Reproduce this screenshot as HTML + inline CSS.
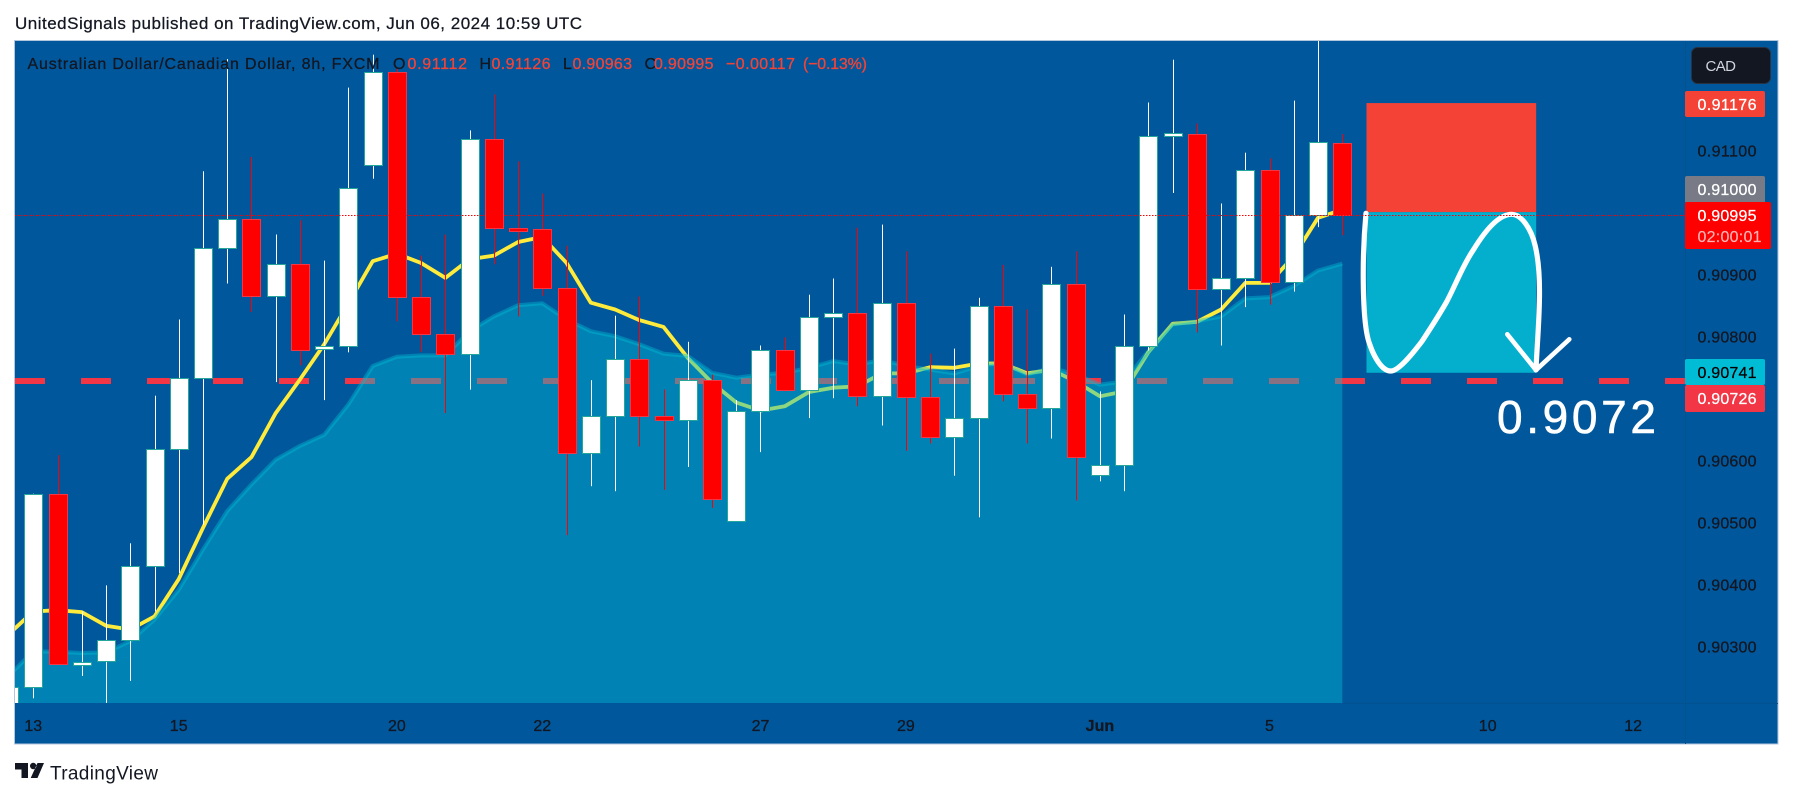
<!DOCTYPE html>
<html lang="en">
<head>
<meta charset="utf-8">
<title>AUD/CAD 8h chart</title>
<style>
  html, body { margin: 0; padding: 0; background: #ffffff; width: 1793px; height: 798px; overflow: hidden; }
  svg { display: block; font-family: "Liberation Sans", sans-serif; }
</style>
</head>
<body>
<svg id="chart" xmlns="http://www.w3.org/2000/svg" width="1793" height="798" viewBox="0 0 1793 798">
  <defs>
    <clipPath id="plot-clip"><rect x="15" y="41" width="1670" height="662"/></clipPath>
  </defs>
  <rect x="0" y="0" width="1793" height="798" fill="#ffffff"/>
  <text x="15" y="29" font-size="17" fill="#131722" stroke="#131722" stroke-width="0.25" textLength="567" lengthAdjust="spacing">UnitedSignals published on TradingView.com, Jun 06, 2024 10:59 UTC</text>
  <rect x="14.5" y="40.5" width="1763.5" height="703.5" fill="#01579b" stroke="#b4c6dc" stroke-width="1"/>
  <g id="plot" clip-path="url(#plot-clip)"></g>
  <rect x="1685" y="41" width="1" height="703" fill="#02528f"/>
  <rect x="1343" y="703" width="435" height="1" fill="#02528f"/>
  <g id="price-axis"></g>
  <g id="time-axis"></g>

  <g font-size="16" stroke-width="0.3">
    <text x="27.5" y="69" fill="#131722" stroke="#131722" textLength="352" lengthAdjust="spacing">Australian Dollar/Canadian Dollar, 8h, FXCM</text>
    <text x="393" y="69" fill="#131722" stroke="#131722">O</text>
    <text x="407.5" y="69" fill="#f44336" stroke="#f44336" textLength="59.5" lengthAdjust="spacing">0.91112</text>
    <text x="479.5" y="69" fill="#131722" stroke="#131722">H</text>
    <text x="491.5" y="69" fill="#f44336" stroke="#f44336" textLength="59" lengthAdjust="spacing">0.91126</text>
    <text x="563" y="69" fill="#131722" stroke="#131722">L</text>
    <text x="572.5" y="69" fill="#f44336" stroke="#f44336" textLength="59.5" lengthAdjust="spacing">0.90963</text>
    <text x="644.5" y="69" fill="#131722" stroke="#131722">C</text>
    <text x="654" y="69" fill="#f44336" stroke="#f44336" textLength="59.5" lengthAdjust="spacing">0.90995</text>
    <text x="726" y="69" fill="#f44336" stroke="#f44336" textLength="69" lengthAdjust="spacing">−0.00117</text>
    <text x="803" y="69" fill="#f44336" stroke="#f44336" textLength="64" lengthAdjust="spacing">(−0.13%)</text>
  </g>

  <g>
    <rect x="1691.5" y="47.5" width="79" height="36" rx="6" fill="#131722" stroke="#2a3140"/>
    <text x="1705.5" y="71" font-size="15" fill="#d1d4dc" textLength="30.5" lengthAdjust="spacing">CAD</text>
  </g>

  <g>
    <path fill="#131722" d="M15 763h13v15h-6.5v-8.5H15zM30 766a3.2 3.2 0 1 0 6.4 0a3.2 3.2 0 1 0 -6.4 0zM37.5 763H44l-6.5 15h-6.8z"/>
    <text x="50" y="779.5" font-size="19" fill="#131722" textLength="108" lengthAdjust="spacing">TradingView</text>
  </g>
</svg>

<script>
// Chart data (prices)
const barOpen = [0.90180,0.90235,0.90546,0.90272,0.90276,0.90310,0.90430,0.90618,0.90733,0.90943,0.90989,0.90865,0.90917,0.90779,0.90784,0.91076,0.91226,0.90864,0.90804,0.90772,0.91118,0.90975,0.90973,0.90878,0.90612,0.90672,0.90764,0.90672,0.90665,0.90730,0.90502,0.90680,0.90778,0.90714,0.90831,0.90838,0.90703,0.90854,0.90702,0.90637,0.90668,0.90849,0.90706,0.90684,0.90884,0.90576,0.90593,0.90784,0.91123,0.91126,0.90876,0.90894,0.91068,0.90888,0.90996,0.91112];
const barHigh = [0.90235,0.90546,0.90608,0.90356,0.90398,0.90466,0.90704,0.90827,0.91066,0.91247,0.91089,0.90964,0.90987,0.90922,0.91201,0.91254,0.91233,0.90930,0.90964,0.91132,0.91190,0.91082,0.91030,0.90946,0.90729,0.90833,0.90864,0.90714,0.90791,0.90738,0.90697,0.90785,0.90798,0.90867,0.90893,0.90975,0.90980,0.90937,0.90772,0.90780,0.90862,0.90915,0.90843,0.90912,0.90937,0.90711,0.90835,0.91177,0.91246,0.91143,0.91014,0.91096,0.91087,0.91180,0.91279,0.91126];
const barLow = [0.90170,0.90216,0.90271,0.90252,0.90205,0.90244,0.90356,0.90418,0.90496,0.90885,0.90839,0.90726,0.90753,0.90697,0.90774,0.91054,0.90824,0.90775,0.90676,0.90714,0.90916,0.90832,0.90865,0.90479,0.90558,0.90550,0.90622,0.90552,0.90589,0.90523,0.90502,0.90613,0.90711,0.90668,0.90700,0.90687,0.90656,0.90615,0.90627,0.90575,0.90508,0.90695,0.90627,0.90635,0.90535,0.90566,0.90550,0.90777,0.91031,0.90806,0.90785,0.90847,0.90851,0.90872,0.90976,0.90963];
const barClose = [0.90235,0.90546,0.90271,0.90275,0.90310,0.90430,0.90618,0.90733,0.90943,0.90989,0.90865,0.90917,0.90777,0.90784,0.91039,0.91226,0.90864,0.90804,0.90772,0.91118,0.90974,0.90972,0.90878,0.90612,0.90672,0.90764,0.90672,0.90665,0.90730,0.90538,0.90680,0.90778,0.90714,0.90831,0.90838,0.90703,0.90854,0.90702,0.90637,0.90668,0.90849,0.90706,0.90684,0.90884,0.90605,0.90593,0.90784,0.91123,0.91127,0.90876,0.90894,0.91068,0.90888,0.90996,0.91114,0.90995];
const fastAverage = [0.90320,0.90356,0.90358,0.90355,0.90333,0.90327,0.90348,0.90408,0.90491,0.90570,0.90605,0.90676,0.90730,0.90787,0.90853,0.90921,0.90933,0.90918,0.90894,0.90924,0.90930,0.90952,0.90960,0.90918,0.90854,0.90843,0.90826,0.90815,0.90765,0.90725,0.90693,0.90680,0.90687,0.90710,0.90717,0.90719,0.90740,0.90740,0.90750,0.90749,0.90756,0.90756,0.90740,0.90746,0.90727,0.90703,0.90711,0.90774,0.90820,0.90823,0.90843,0.90886,0.90886,0.90929,0.90991,0.91004];
const slowAverage = [0.90253,0.90292,0.90291,0.90289,0.90290,0.90308,0.90343,0.90391,0.90456,0.90518,0.90561,0.90601,0.90623,0.90641,0.90690,0.90752,0.90767,0.90769,0.90769,0.90808,0.90832,0.90850,0.90853,0.90827,0.90808,0.90800,0.90787,0.90772,0.90768,0.90741,0.90733,0.90738,0.90741,0.90749,0.90760,0.90754,0.90762,0.90752,0.90746,0.90740,0.90752,0.90757,0.90738,0.90749,0.90738,0.90722,0.90727,0.90776,0.90819,0.90824,0.90832,0.90861,0.90863,0.90881,0.90906,0.90917];
const priceTicks = ["0.91100","0.90900","0.90800","0.90600","0.90500","0.90400","0.90300"];
const timeLabels = ["13","15","20","22","27","29","Jun","5","10","12"];
const timeLabelBars = [0,6,15,21,30,36,44,51,60,66];
const supportLevel = 0.90728;
const supportTagValue = 0.90726;
const lastPrice = 0.90995;
const entryPrice = 0.91000;
const stopPrice = 0.91176;
const targetPrice = 0.90741;
const positionStartBar = 55;
const positionEndBar = 62;

// Axis functions
const firstBarIndex = -1;
function xOf(bar) { return 33.3 + 24.24 * bar; }
function yOf(price) { return 150.2 + (0.911 - price) * 62000; }

const NS = 'http://www.w3.org/2000/svg';
function make(tag, attrs, parent, text) {
  const el = document.createElementNS(NS, tag);
  for (const k in attrs) el.setAttribute(k, attrs[k]);
  if (text !== undefined) el.textContent = text;
  parent.appendChild(el);
  return el;
}
const plot = document.getElementById('plot');
const priceAxis = document.getElementById('price-axis');
const timeAxis = document.getElementById('time-axis');

// Support level (under the area so it tints through)
const supportY = Math.round(yOf(supportLevel));
const supportLine = make('line', { x1: 15, x2: 1685, y1: supportY, y2: supportY, stroke: '#f23645', 'stroke-width': 6, 'stroke-dasharray': '30 36' }, plot);



function linePath(values) {
  return values.map(function (v, i) {
    return (i ? 'L' : 'M') + xOf(i + firstBarIndex).toFixed(1) + ' ' + yOf(v).toFixed(1);
  }).join('');
}

// Fast moving average
const fastLine = make('path', { d: linePath(fastAverage), fill: 'none', stroke: '#ffeb3b', 'stroke-width': 3.8, 'stroke-linejoin': 'round' }, plot);



// Slow moving average area
const lastBar = slowAverage.length - 1 + firstBarIndex;
const areaD = linePath(slowAverage) + 'L' + xOf(lastBar).toFixed(1) + ' 703L' + xOf(firstBarIndex).toFixed(1) + ' 703Z';
const slowArea = make('path', { d: areaD, fill: 'rgba(0,188,212,0.44)' }, plot);


const slowLine = make('path', { d: linePath(slowAverage), fill: 'none', stroke: 'rgba(0,188,212,0.42)', 'stroke-width': 4, 'stroke-linejoin': 'round' }, plot);



// Candles
barOpen.forEach(function (open, i) {
  const bar = i + firstBarIndex;
  const close = barClose[i];
  const up = close >= open;
  const left = Math.round(xOf(bar) - 9);
  const topY = Math.round(yOf(Math.max(open, close)));
  const botY = Math.round(yOf(Math.min(open, close)));
  const g = make('g', {}, plot);
  
  
  const wickTop = yOf(barHigh[i]);
  const wickBot = yOf(barLow[i]);
  const wick = make('rect', { x: left + 9, y: wickTop.toFixed(1), width: 1, height: (wickBot - wickTop).toFixed(1), fill: up ? '#ffffff' : '#ff0000' }, g);
  
  
  const body = make('rect', { x: left + 0.5, y: topY + 0.5, width: 18, height: Math.max(botY - topY, 3), fill: up ? '#ffffff' : '#ff0000', stroke: up ? '#26a69a' : '#f23645', 'stroke-width': 1 }, g);
  
  
});

// Short position drawing
const posX1 = xOf(positionStartBar);
const posX2 = xOf(positionEndBar);
const stopZone = make('rect', { x: posX1, y: yOf(stopPrice), width: posX2 - posX1, height: yOf(entryPrice) - yOf(stopPrice), fill: '#f44336' }, plot);


const targetZone = make('rect', { x: posX1, y: yOf(entryPrice), width: posX2 - posX1, height: yOf(targetPrice) - yOf(entryPrice), fill: '#03afcd' }, plot);



// Freehand projected path and arrow
const curve = make('path', { d: 'M1366 213.3C1364 235 1363 261 1363.3 283C1363.6 310 1365 333 1370 345C1373 354 1381 371 1390.7 371C1398 371 1410 357 1421.7 341.7C1432 326 1438 317 1446.7 301.7C1456 284 1463 265 1473.3 250C1480 239 1496 214.3 1511.7 214.3C1521 214.3 1531 228 1535 245C1538 257 1539.5 275 1539.5 292C1539.5 320 1537 345 1536 370', fill: 'none', stroke: '#ffffff', 'stroke-width': 5.2, 'stroke-linecap': 'round', 'stroke-linejoin': 'round' }, plot);


const arrow = make('path', { d: 'M1507.3 334.3L1536 370L1569.3 339.3', fill: 'none', stroke: '#ffffff', 'stroke-width': 4.6, 'stroke-linecap': 'round', 'stroke-linejoin': 'round' }, plot);



// Last price dotted line
const lastY = Math.round(yOf(lastPrice)) + 0.5;
const lastLine = make('line', { x1: 15, x2: 1685, y1: lastY, y2: lastY, stroke: '#ff0000', 'stroke-width': 1, 'stroke-dasharray': '1.5 1.5' }, plot);



// Target annotation
const targetText = make('text', { x: 1497, y: 433, 'font-size': 46, fill: '#ffffff', stroke: '#ffffff', 'stroke-width': 0.6, textLength: 159, lengthAdjust: 'spacing' }, plot, '0.9072');



// Price axis ticks
priceTicks.forEach(function (label) {
  const t = make('text', { x: 1697.5, y: (yOf(parseFloat(label)) + 6.3).toFixed(1), 'font-size': 16, fill: '#131722', stroke: '#131722', 'stroke-width': 0.3, textLength: 59, lengthAdjust: 'spacing' }, priceAxis, label);
  
  
});

// Price axis tags: value, vertical shift to avoid overlap, colours, size
function drawTag(value, shift, fill, textFill, width, height) {
  const cy = yOf(value) + shift;
  const rect = make('rect', { x: 1685, y: (cy - 13).toFixed(1), width: width, height: height, rx: 2, fill: fill }, priceAxis);
  
  
  const t = make('text', { x: 1697.5, y: (cy + 5.8).toFixed(1), 'font-size': 16, fill: textFill, stroke: textFill, 'stroke-width': 0.25, textLength: 59, lengthAdjust: 'spacing' }, priceAxis, value.toFixed(5));
  
  
}
drawTag(stopPrice, 0.9, '#f44336', '#ffffff', 80, 26);
drawTag(entryPrice, -23.2, '#787b86', '#ffffff', 80, 27);
drawTag(lastPrice, -0.3, '#ff0000', '#ffffff', 86, 47);
drawTag(targetPrice, -0.8, '#00bcd4', '#000000', 80, 26);
drawTag(supportTagValue, 15.9, '#f23645', '#ffffff', 80, 27);
const countdown = make('text', { x: 1697.5, y: (yOf(lastPrice) + 26.5).toFixed(1), 'font-size': 16, fill: '#ffb0b0', stroke: '#ffb0b0', 'stroke-width': 0.2, textLength: 64, lengthAdjust: 'spacing' }, priceAxis, '02:00:01');



// Time axis labels
timeLabels.forEach(function (label, i) {
  const t = make('text', { x: xOf(timeLabelBars[i]).toFixed(1), y: 731, 'font-size': 16, 'text-anchor': 'middle', fill: '#131722', stroke: '#131722', 'stroke-width': 0.3, 'font-weight': label === 'Jun' ? 'bold' : 'normal' }, timeAxis, label);
  
  
});
</script>
</body>
</html>
